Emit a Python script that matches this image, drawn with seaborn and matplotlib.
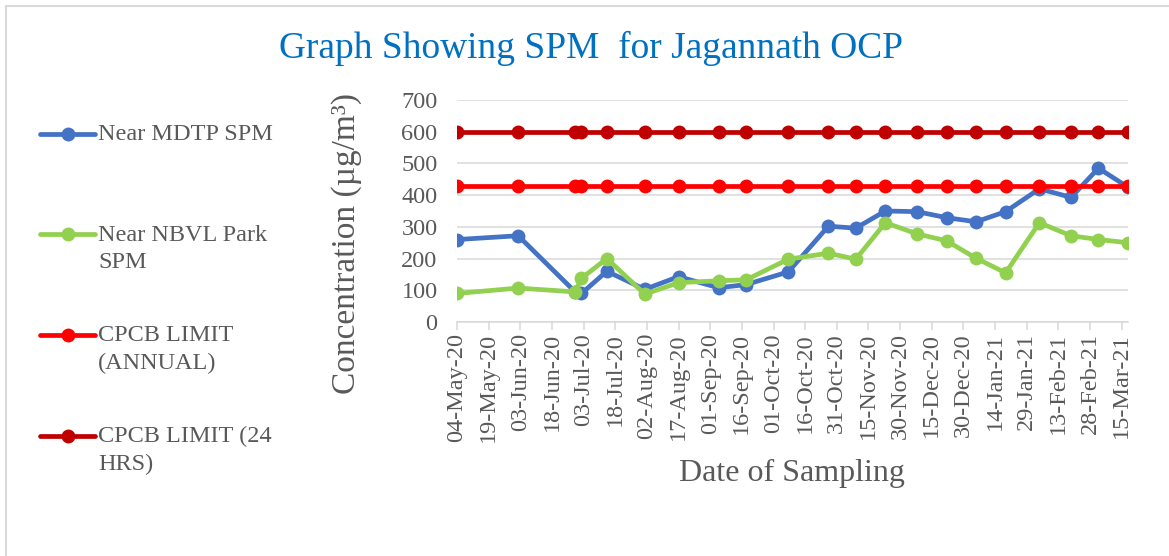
import matplotlib
matplotlib.use("Agg")
import matplotlib.pyplot as plt
import matplotlib.dates as mdates
from matplotlib.patches import Rectangle
import seaborn as sns
import pandas as pd

# ---- data ----
dates = ["2020-05-04", "2020-06-02", "2020-06-29", "2020-07-02", "2020-07-14",
         "2020-08-01", "2020-08-17", "2020-09-05", "2020-09-18", "2020-10-08",
         "2020-10-27", "2020-11-09", "2020-11-23", "2020-12-08", "2020-12-22",
         "2021-01-05", "2021-01-19", "2021-02-04", "2021-02-19", "2021-03-04",
         "2021-03-18"]
mdtp = [260, 272, 95, 90, 160, 103, 143, 108, 118, 158, 302, 296, 350, 348,
        329, 316, 348, 420, 393, 485, 425]
nbvl = [90, 107, 95, 138, 200, 88, 124, 130, 133, 198, 217, 198, 313, 278,
        256, 201, 155, 313, 272, 260, 250]
limit_annual = [430] * len(dates)
limit_24h = [600] * len(dates)

series_names = ["Near MDTP SPM", "Near NBVL Park SPM",
                "CPCB LIMIT (ANNUAL)", "CPCB LIMIT (24 HRS)"]
legend_labels = ["Near MDTP SPM\n", "Near NBVL Park\nSPM",
                 "CPCB LIMIT\n(ANNUAL)", "CPCB LIMIT (24\nHRS)"]
colors = ["#4472C4", "#92D050", "#FF0000", "#C00000"]

title = "Graph Showing SPM  for Jagannath OCP"
ylabel = "Concentration (µg/m³)"
xlabel = "Date of Sampling"
x_start, x_end = "2020-05-04", "2021-03-18"
yticks = [0, 100, 200, 300, 400, 500, 600, 700]

# ---- build long table ----
df = pd.DataFrame({"date": pd.to_datetime(dates),
                   series_names[0]: mdtp, series_names[1]: nbvl,
                   series_names[2]: limit_annual, series_names[3]: limit_24h})
long = df.melt(id_vars="date", var_name="series", value_name="value")

sns.set_theme(style="white")
plt.rcParams["font.family"] = ["Liberation Serif", "DejaVu Serif"]
plt.rcParams["mathtext.fontset"] = "stix"

fig = plt.figure(figsize=(11.69, 5.56), dpi=100)
W, H = 1169, 556
ax = fig.add_axes([457 / W, 1 - 322 / H, (1128 - 457) / W, (322 - 100) / H])

sns.lineplot(data=long, x="date", y="value", hue="series",
             hue_order=series_names, palette=colors, marker="o",
             markersize=10, markeredgewidth=0, linewidth=3.4,
             errorbar=None, legend=False, ax=ax)

# axes styling
ax.set_xlim(pd.Timestamp(x_start), pd.Timestamp(x_end))
ax.set_ylim(0, 700)
ax.set_yticks(yticks)
ticks = pd.date_range(x_start, x_end, freq="15D")
ax.set_xticks(ticks)
ax.xaxis.set_major_formatter(mdates.DateFormatter("%d-%b-%y"))
ax.grid(axis="y", color="#D9D9D9", linewidth=1.1)
ax.grid(axis="x", visible=False)
ax.set_axisbelow(True)
for s in ["top", "right", "left"]:
    ax.spines[s].set_visible(False)
ax.spines["bottom"].set_color("#D9D9D9")
ax.spines["bottom"].set_linewidth(1.1)
ax.tick_params(axis="y", length=0, pad=14, labelsize=17.5, labelcolor="#595959")
ax.tick_params(axis="x", length=6, width=1.1, color="#D9D9D9", pad=2,
               labelsize=17.5, labelcolor="#595959", rotation=90, bottom=True)

ax.set_xlabel(xlabel, fontsize=23, color="#595959", va="center")
ax.xaxis.set_label_coords((792 - 457) / (1128 - 457), (322 - 473) / (322 - 100))
ax.set_ylabel(ylabel, fontsize=24, color="#595959", va="center")
ax.yaxis.set_label_coords((347 - 457) / (1128 - 457), (322 - 244) / (322 - 100))

fig.text(591 / W, 1 - 48 / H, title, fontsize=26.9, color="#0070C0",
         ha="center", va="center")

# legend
fs = 17.5
leg = fig.legend(handles=ax.lines[:4], labels=legend_labels,
                 loc="upper left", bbox_to_anchor=(40 / W, 1 - 124 / H),
                 frameon=False, fontsize=fs, labelcolor="#595959",
                 handlelength=55 / (fs * 100 / 72), handleheight=1.0,
                 handletextpad=0.12, borderpad=0, borderaxespad=0,
                 labelspacing=2.15)
for t in leg.get_texts():
    t.set_linespacing(1.4)
try:
    for col in leg._legend_handle_box.get_children():
        for hp in col.get_children():
            hp.align = "top"
except Exception:
    pass

# chart-area border
fig.patches.append(Rectangle((6 / W, -0.05), 1.1, 1 - 6 / H + 0.05,
                             transform=fig.transFigure, fill=False,
                             edgecolor="#D9D9D9", linewidth=1.5))

fig.savefig("out.png", dpi=100)
